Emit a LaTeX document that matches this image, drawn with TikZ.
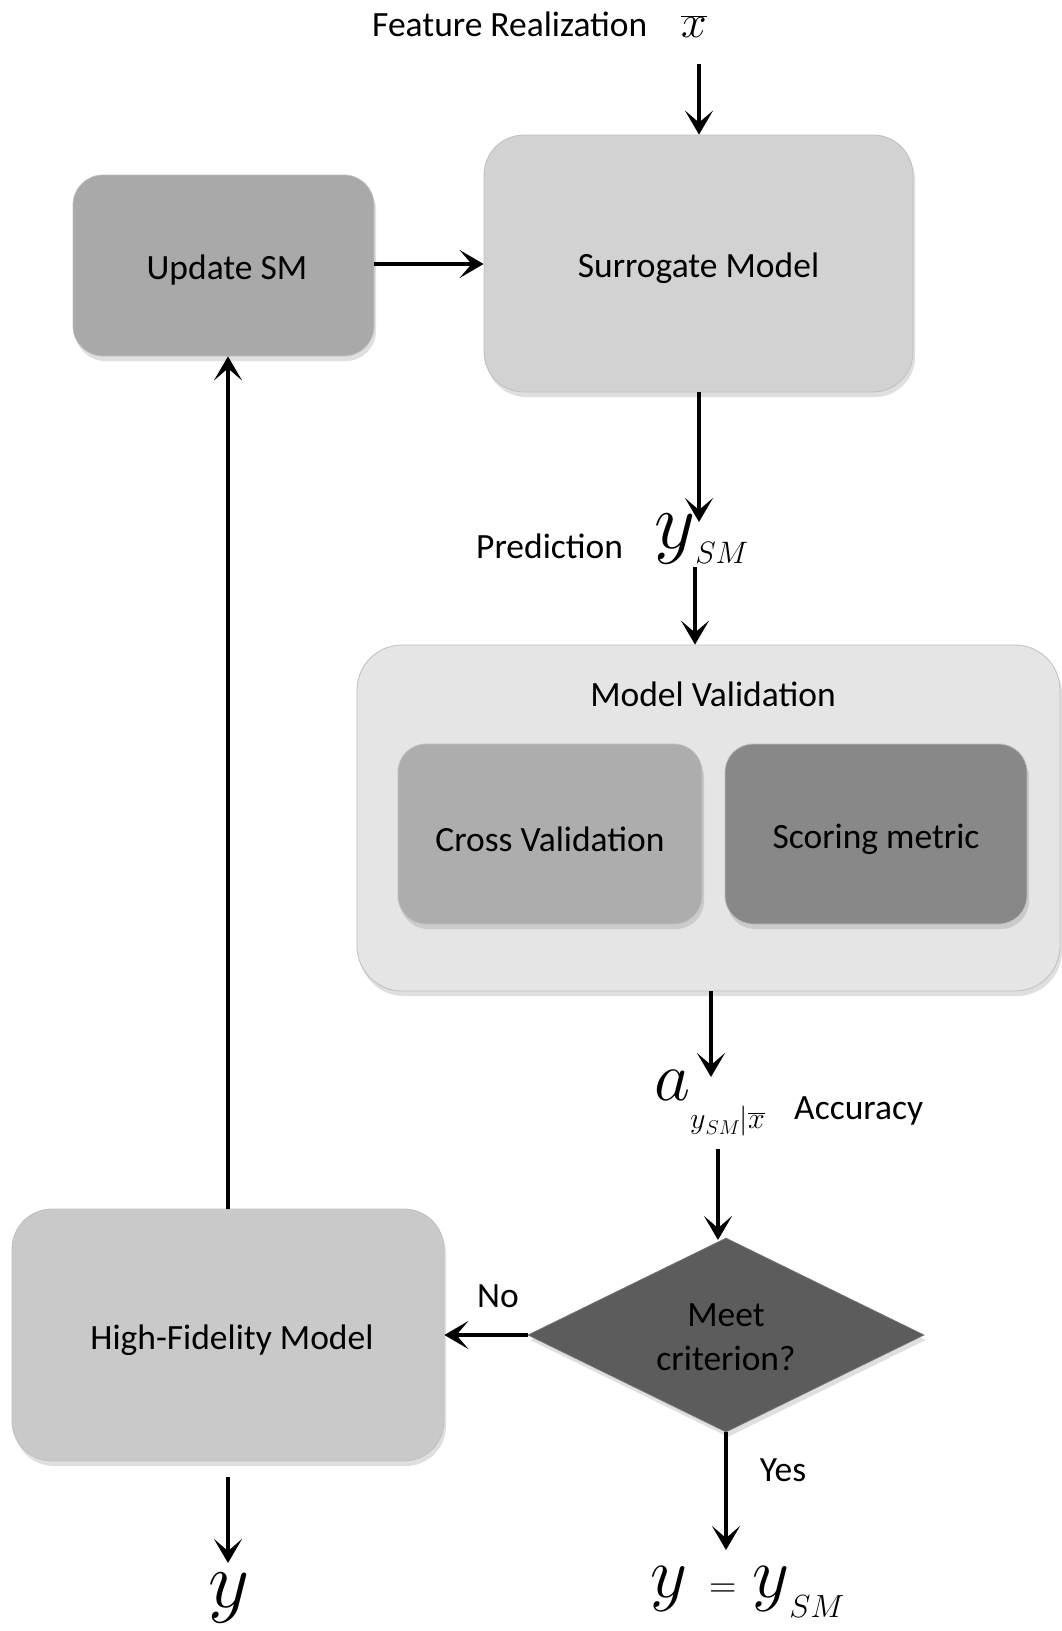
\RequirePackage{fix-cm}
\documentclass[tikz,border=0pt]{standalone}
\usepackage{fontspec}
\setmainfont{Carlito}
\usetikzlibrary{arrows.meta,shapes.geometric,shadows}

\definecolor{smfill}{HTML}{D2D2D2}
\definecolor{updfill}{HTML}{A9A9A9}
\definecolor{mvfill}{HTML}{E5E5E5}
\definecolor{cvfill}{HTML}{ADADAD}
\definecolor{scfill}{HTML}{888888}
\definecolor{dmfill}{HTML}{5C5C5C}
\definecolor{hffill}{HTML}{C9C9C9}

% math symbol at a given size
\newcommand\msz[2]{{\fontsize{#1}{#1}\selectfont$#2$}}

\tikzset{
  box/.style={rectangle, draw=black!25, line width=0.8pt,
    drop shadow={opacity=0.25, shadow xshift=2pt, shadow yshift=-5pt}},
  lbl/.style={font=\fontsize{35.5}{42}\selectfont, inner sep=0pt},
  boxlbl/.style={lbl, yshift=-5pt},
  mth/.style={inner sep=0pt, anchor=base west},
  arr/.style={line width=4pt, -{Stealth[length=24pt,width=28pt,inset=12pt]}},
}

\begin{document}
\begin{tikzpicture}[x=1pt,y=-1pt]
\useasboundingbox (0,0) rectangle (1062,1631);

% process boxes
\node[box, fill=smfill, rounded corners=40pt, minimum width=429pt, minimum height=257pt] (sm) at (698.5,263.5) {};
\node[boxlbl] (smt) at (sm.center) {Surrogate Model};

\node[box, fill=updfill, rounded corners=30pt, minimum width=301pt, minimum height=181pt] (upd) at (223.5,265.5) {};
\node[boxlbl] (updt) at (227,265.5) {Update SM};

\node[box, fill=mvfill, rounded corners=45pt, minimum width=703pt, minimum height=346pt] (mv) at (708.5,818) {};
\node[lbl] (mvt) at (713,694) {Model Validation};

\node[box, fill=cvfill, rounded corners=28pt, minimum width=304pt, minimum height=180pt] (cv) at (550,834) {};
\node[boxlbl] (cvt) at (cv.center) {Cross Validation};

\node[box, fill=scfill, rounded corners=28pt, minimum width=302pt, minimum height=180pt] (sc) at (876,834) {};
\node[boxlbl] (sct) at (sc.center) {Scoring metric};

\node[box, fill=hffill, rounded corners=40pt, minimum width=432pt, minimum height=252pt] (hf) at (228,1335) {};
\node[boxlbl] (hft) at (232,1335) {High-Fidelity Model};

% decision
\node[diamond, fill=dmfill, draw=black!55, line width=0.8pt, inner sep=0pt,
      minimum width=396pt, minimum height=194pt,
      drop shadow={opacity=0.25, shadow xshift=2pt, shadow yshift=-5pt}] (dm) at (726,1335) {};
\node[boxlbl, align=center] (dmt) at (726,1332) {Meet\\[2pt]criterion?};

% labels
\node[lbl, anchor=west] (feat) at (372,24) {Feature Realization};
\node[mth] (xbar) at (681,37) {\msz{46}{\overline{x}}};
\node[lbl, anchor=west] (pred) at (476,546) {Prediction};
\node[mth] (ysm) at (654,548) {\msz{80}{y}\raisebox{-15pt}{\msz{31}{SM}}};
\node[mth] (acc) at (654,1100) {\msz{70}{a}\raisebox{-28pt}{\msz{30}{y}\raisebox{-6pt}{\msz{20}{SM}}\msz{30}{|\overline{x}}}};
\node[lbl, anchor=west] (acct) at (794,1111) {Accuracy};
\node[lbl] (no) at (498,1296) {No};
\node[lbl] (yes) at (783,1470) {Yes};
\node[mth] (yout) at (208,1607) {\msz{80}{y}};
\node[mth] (yeq) at (650,1597) {\msz{72}{y}\hspace{22pt}\msz{38}{=}\hspace{16pt}\msz{72}{y}\raisebox{-20pt}{\msz{32}{SM}}};

% connector ends
\coordinate (c1) at (699,64);
\coordinate (c2) at (699,522);
\coordinate (c3) at (695,567);
\coordinate (c4) at (711,1077);
\coordinate (c5) at (718,1149);
\coordinate (c6) at (228,1477);
\coordinate (c7) at (228,1563);
\coordinate (c8) at (726,1550);

% connectors
\draw[arr] (c1) -- (c1 |- sm.north);
\draw[arr] (upd.east |- 0,264) -- (sm.west |- 0,264);
\draw[arr] (c2 |- sm.south) -- (c2);
\draw[arr] (c3) -- (c3 |- mv.north);
\draw[arr] (c4 |- mv.south) -- (c4);
\draw[arr] (c5) -- (718,1240);
\draw[arr] (dm.west) -- (hf.east |- dm.west);
\draw[arr] (dm.south) -- (c8);
\draw[arr] (hf.north) -- (upd.south -| hf.north);
\draw[arr] (c6) -- (c7);
\end{tikzpicture}
\end{document}
